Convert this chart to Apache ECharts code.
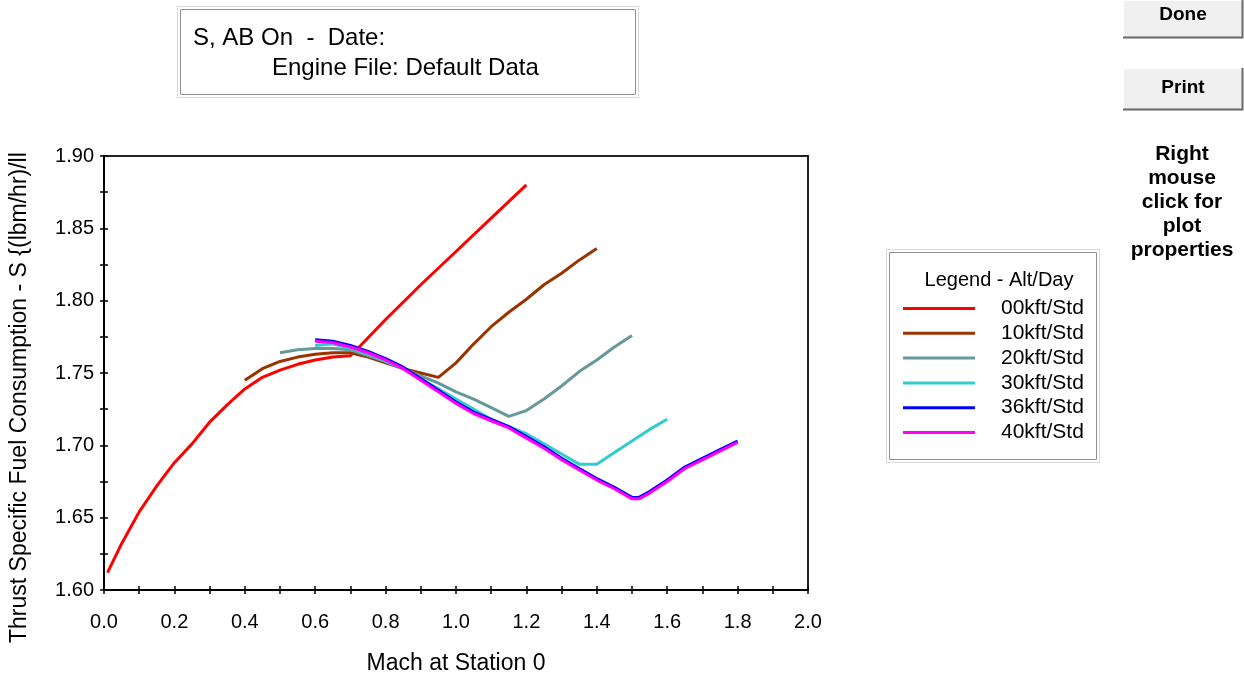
<!DOCTYPE html>
<html>
<head>
<meta charset="utf-8">
<style>
  html, body { margin: 0; padding: 0; background: #fff; }
  #chart { width: 1244px; height: 677px; }
</style>
</head>
<body>
<div id="chart"></div>
<script src="https://cdn.jsdelivr.net/npm/echarts@6/dist/echarts.min.js"></script>
<script>
// tick labels / axis ranges
var machTicks = [0.0, 0.2, 0.4, 0.6, 0.8, 1.0, 1.2, 1.4, 1.6, 1.8, 2.0];
var tsfcTicks = [1.60, 1.65, 1.70, 1.75, 1.80, 1.85, 1.90];
var seriesNames = ['00kft/Std', '10kft/Std', '20kft/Std', '30kft/Std', '36kft/Std', '40kft/Std'];
var seriesColors = ['#ff0000', '#993300', '#669999', '#33cccc', '#0000ff', '#ff00ff'];

// [mach, tsfc]
var alt00 = [[0.01,1.612],[0.05,1.632],[0.1,1.654],[0.15,1.672],[0.2,1.688],[0.25,1.701],[0.3,1.716],
  [0.35,1.728],[0.4,1.739],[0.45,1.747],[0.5,1.752],[0.55,1.756],[0.6,1.759],[0.65,1.761],[0.7,1.762],
  [0.725,1.768],[0.8,1.787],[0.9,1.811],[1.0,1.834],[1.1,1.857],[1.2,1.880]];
var alt10 = [[0.4,1.745],[0.45,1.753],[0.5,1.758],[0.55,1.761],[0.6,1.763],[0.65,1.764],[0.7,1.764],
  [0.75,1.761],[0.8,1.757],[0.85,1.753],[0.9,1.750],[0.95,1.747],[1.0,1.757],[1.05,1.770],[1.1,1.782],
  [1.15,1.792],[1.2,1.801],[1.25,1.811],[1.3,1.819],[1.35,1.828],[1.4,1.836]];
var alt20 = [[0.5,1.764],[0.55,1.766],[0.6,1.767],[0.65,1.767],[0.7,1.766],[0.75,1.762],[0.8,1.758],
  [0.85,1.753],[0.9,1.748],[0.95,1.743],[1.0,1.737],[1.05,1.732],[1.1,1.726],[1.15,1.720],[1.2,1.724],
  [1.25,1.732],[1.3,1.741],[1.35,1.751],[1.4,1.759],[1.45,1.768],[1.5,1.776]];
var alt30 = [[0.6,1.769],[0.65,1.770],[0.7,1.767],[0.75,1.763],[0.8,1.758],[0.85,1.753],[0.9,1.746],
  [0.95,1.739],[1.0,1.732],[1.05,1.725],[1.1,1.718],[1.15,1.713],[1.2,1.708],[1.25,1.701],[1.3,1.694],
  [1.35,1.687],[1.4,1.687],[1.45,1.695],[1.5,1.703],[1.55,1.711],[1.6,1.718]];
var alt36 = [[0.6,1.773],[0.65,1.772],[0.7,1.769],[0.75,1.765],[0.8,1.760],[0.85,1.754],[0.9,1.746],
  [0.95,1.738],[1.0,1.730],[1.05,1.723],[1.1,1.718],[1.15,1.713],[1.2,1.706],[1.25,1.699],[1.3,1.691],
  [1.35,1.684],[1.4,1.677],[1.45,1.671],[1.5,1.664],[1.52,1.664],[1.55,1.668],[1.6,1.676],[1.65,1.685],
  [1.7,1.691],[1.75,1.697],[1.8,1.703]];
var alt40 = [[0.6,1.772],[0.65,1.771],[0.7,1.768],[0.75,1.764],[0.8,1.759],[0.85,1.753],[0.9,1.745],
  [0.95,1.737],[1.0,1.729],[1.05,1.722],[1.1,1.717],[1.15,1.712],[1.2,1.705],[1.25,1.698],[1.3,1.690],
  [1.35,1.683],[1.4,1.676],[1.45,1.670],[1.5,1.663],[1.52,1.663],[1.55,1.667],[1.6,1.675],[1.65,1.684],
  [1.7,1.690],[1.75,1.696],[1.8,1.702]];
var allData = [alt00, alt10, alt20, alt30, alt36, alt40];

var FONT = "'Liberation Sans', Arial, sans-serif";
var chart = echarts.init(document.getElementById('chart'));

// outer axis: line, labels, ticks outward; inner axis: ticks inward only (ticks cross the line)
function makeX(outer) {
    return {
        type: 'value',
        position: 'bottom',
        min: machTicks[0],
        max: machTicks[machTicks.length - 1],
        interval: 0.2,
        name: outer ? 'Mach at Station 0' : '',
        nameLocation: 'middle',
        nameGap: 62,
        nameTextStyle: { fontFamily: FONT, fontSize: 23, color: '#000' },
        axisLine: { show: true, onZero: false, lineStyle: { color: outer ? '#000' : 'rgba(0,0,0,0)', width: 2 } },
        axisTick: { show: true, inside: !outer, length: 4, lineStyle: { color: '#000', width: 1.5 } },
        minorTick: { show: true, splitNumber: 2, length: 4, lineStyle: { color: '#000', width: 1.5 } },
        axisLabel: {
            show: outer, margin: 22, fontFamily: FONT, fontSize: 20, color: '#000',
            formatter: function (v) { return v.toFixed(1); }
        },
        splitLine: { show: false }
    };
}
function makeY(outer) {
    return {
        type: 'value',
        position: 'left',
        min: tsfcTicks[0],
        max: tsfcTicks[tsfcTicks.length - 1],
        interval: 0.05,
        axisLine: { show: true, onZero: false, lineStyle: { color: outer ? '#000' : 'rgba(0,0,0,0)', width: 2 } },
        axisTick: { show: true, inside: !outer, length: 4, lineStyle: { color: '#000', width: 1.5 } },
        minorTick: { show: true, splitNumber: 2, length: 4, lineStyle: { color: '#000', width: 1.5 } },
        axisLabel: {
            show: outer, margin: 10, fontFamily: FONT, fontSize: 20, color: '#000',
            formatter: function (v) { return v.toFixed(2); }
        },
        splitLine: { show: false }
    };
}

var series = [];
for (var i = 0; i < allData.length; i++) {
    series.push({
        name: seriesNames[i],
        type: 'line',
        data: allData[i],
        showSymbol: false,
        symbol: 'none',
        color: seriesColors[i],
        lineStyle: { width: 3, color: seriesColors[i] },
        animation: false
    });
}

var option = {
    backgroundColor: '#ffffff',
    animation: false,
    grid: {
        left: 104, top: 156, width: 704, height: 434,
        outerBoundsMode: 'none',
        containLabel: false,
        show: true, borderColor: '#222', borderWidth: 2, backgroundColor: 'transparent'
    },
    xAxis: [makeX(true), makeX(false)],
    yAxis: [makeY(true), makeY(false)],
    legend: {
        data: seriesNames,
        orient: 'vertical',
        left: 903,
        top: 298,
        padding: 0,
        icon: 'rect',
        itemWidth: 72,
        itemHeight: 3,
        itemGap: 3.8,
        selectedMode: false,
        textStyle: { fontFamily: FONT, fontSize: 21, color: '#000', lineHeight: 20, padding: [0, 0, 0, 21] }
    },
    graphic: [
        // title box
        { type: 'rect', shape: { x: 177.5, y: 6.5, width: 461, height: 91 }, style: { fill: '#fff', stroke: '#d8d8d8', lineWidth: 1 } },
        { type: 'rect', shape: { x: 180.5, y: 9.5, width: 455, height: 85 }, style: { fill: '#fff', stroke: '#909090', lineWidth: 1 } },
        { type: 'text', x: 193, y: 38, style: { text: 'S, AB On  -  Date:', fontFamily: FONT, fontSize: 24, fill: '#000', verticalAlign: 'middle' } },
        { type: 'text', x: 272, y: 68, style: { text: 'Engine File: Default Data', fontFamily: FONT, fontSize: 24, fill: '#000', verticalAlign: 'middle' } },
        // legend box
        { type: 'rect', z: -1, shape: { x: 886.5, y: 249.5, width: 213, height: 213 }, style: { fill: '#fff', stroke: '#d8d8d8', lineWidth: 1 } },
        { type: 'rect', z: -1, shape: { x: 889.5, y: 252.5, width: 207, height: 207 }, style: { fill: '#fff', stroke: '#909090', lineWidth: 1 } },
        { type: 'text', x: 999, y: 280, style: { text: 'Legend - Alt/Day', fontFamily: FONT, fontSize: 20, fill: '#000', align: 'center', verticalAlign: 'middle' } },
        // y axis title
        { type: 'text', x: 20, y: 643, rotation: Math.PI / 2,
          style: { text: 'Thrust Specific Fuel Consumption - S {(lbm/hr)/ll', fontFamily: FONT, fontSize: 23, fill: '#000', align: 'left', verticalAlign: 'middle' } },
        // Done button
        { type: 'rect', shape: { x: 1123, y: 0, width: 120, height: 38 }, style: { fill: '#f0f0f0', stroke: null } },
        { type: 'polyline', shape: { points: [[1123.5, 38], [1123.5, 0.5], [1243, 0.5]] }, style: { stroke: '#ffffff', fill: null, lineWidth: 1 } },
        { type: 'polyline', shape: { points: [[1123, 37.5], [1242.5, 37.5], [1242.5, 0]] }, style: { stroke: '#696969', fill: null, lineWidth: 2 } },
        { type: 'text', x: 1183, y: 15, style: { text: 'Done', fontFamily: FONT, fontSize: 19, fontWeight: 'bold', fill: '#000', align: 'center', verticalAlign: 'middle' } },
        // Print button
        { type: 'rect', shape: { x: 1123, y: 68, width: 120, height: 42 }, style: { fill: '#f0f0f0', stroke: null } },
        { type: 'polyline', shape: { points: [[1123.5, 110], [1123.5, 68.5], [1243, 68.5]] }, style: { stroke: '#ffffff', fill: null, lineWidth: 1 } },
        { type: 'polyline', shape: { points: [[1123, 109.5], [1242.5, 109.5], [1242.5, 68]] }, style: { stroke: '#696969', fill: null, lineWidth: 2 } },
        { type: 'text', x: 1183, y: 88, style: { text: 'Print', fontFamily: FONT, fontSize: 19, fontWeight: 'bold', fill: '#000', align: 'center', verticalAlign: 'middle' } },
        // hint
        { type: 'text', x: 1182, y: 142, style: { text: 'Right\nmouse\nclick for\nplot\nproperties', fontFamily: FONT, fontSize: 21, fontWeight: 'bold', lineHeight: 24, fill: '#000', align: 'center', verticalAlign: 'top' } }
    ],
    series: series
};
chart.setOption(option);
</script>
</body>
</html>
